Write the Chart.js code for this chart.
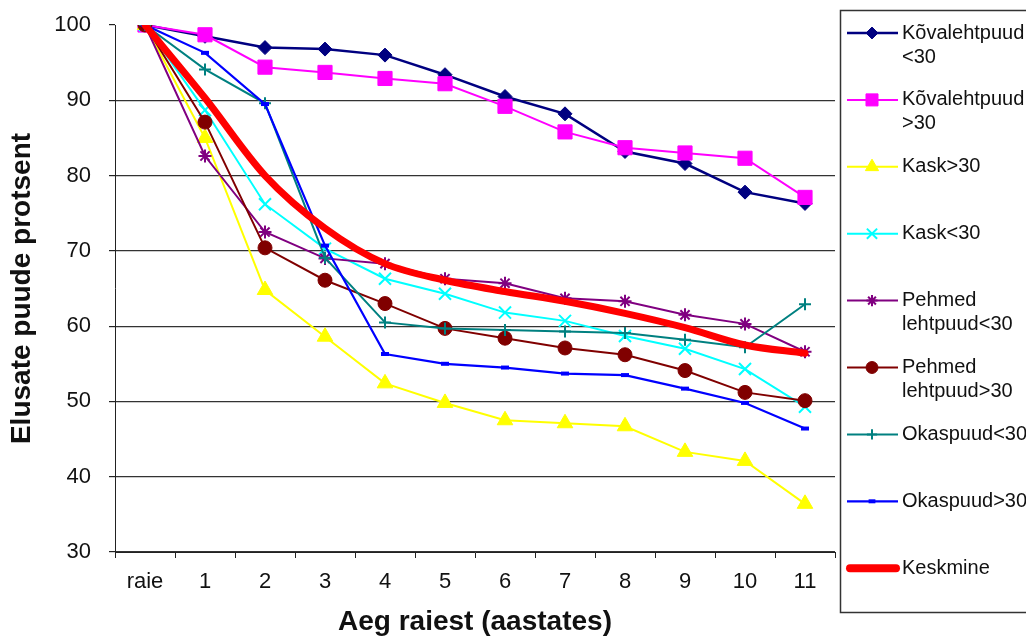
<!DOCTYPE html>
<html>
<head>
<meta charset="utf-8">
<script src="https://cdn.jsdelivr.net/npm/chart.js@4/dist/chart.umd.min.js"></script>
<style>
  html, body { margin: 0; padding: 0; background: #fff; }
  #wrap { width: 1026px; height: 640px; position: relative; }
</style>
</head>
<body>
<div id="wrap"><canvas id="chart"></canvas></div>
<script>
// categories (years since felling)
const labels = ['raie', '1', '2', '3', '4', '5', '6', '7', '8', '9', '10', '11'];

// share of surviving trees, %
const kovaAla30   = [100, 98.5, 97.0, 96.8, 96.0, 93.4, 90.5, 88.2, 83.2, 81.6, 77.8, 76.3];
const kovaYle30   = [100, 98.7, 94.4, 93.7, 92.9, 92.2, 89.2, 85.8, 83.7, 83.0, 82.3, 77.1];
const kaskYle30   = [100, 85.0, 64.8, 58.6, 52.4, 49.8, 47.5, 47.1, 46.7, 43.3, 42.1, 36.4];
const kaskAla30   = [100, 88.7, 76.2, 70.3, 66.3, 64.3, 61.8, 60.7, 58.7, 57.0, 54.3, 49.3];
const pehmedAla30 = [100, 82.6, 72.5, 69.0, 68.3, 66.3, 65.7, 63.7, 63.3, 61.5, 60.3, 56.6];
const pehmedYle30 = [100, 87.1, 70.4, 66.1, 63.0, 59.7, 58.4, 57.1, 56.2, 54.1, 51.2, 50.1];
const okasAla30   = [100, 94.1, 89.6, 69.1, 60.5, 59.7, 59.5, 59.3, 59.1, 58.2, 57.2, 62.9];
const okasYle30   = [100, 96.3, 89.5, 70.7, 56.3, 55.0, 54.5, 53.7, 53.5, 51.7, 49.8, 46.4];
const keskmine    = [100, 90.3, 80.0, 73.0, 68.3, 66.1, 64.6, 63.3, 61.7, 59.8, 57.5, 56.4];

// legend names (\n = line break in the legend box)
const seriesNames = [
  'Kõvalehtpuud\n<30', 'Kõvalehtpuud\n>30', 'Kask>30', 'Kask<30',
  'Pehmed\nlehtpuud<30', 'Pehmed\nlehtpuud>30', 'Okaspuud<30', 'Okaspuud>30', 'Keskmine'
];

const FONT = "'Liberation Sans', Arial, sans-serif";

function series(i, values, color, style, radius, lineW, pointBorder) {
  return {
    label: seriesNames[i],
    data: values,
    borderColor: color,
    backgroundColor: color,
    borderWidth: lineW,
    pointStyle: style,
    pointRadius: radius,
    pointHoverRadius: radius,
    pointBorderWidth: pointBorder,
    pointBackgroundColor: color,
    pointBorderColor: color,
    tension: 0,
    order: 8 - i,   // later series drawn on top, like Excel
  };
}

const datasets = [
  series(0, kovaAla30,   '#000080', 'rectRot',  7,   2.5, 1),
  series(1, kovaYle30,   '#FF00FF', 'rect',     10,  2,   1),
  series(2, kaskYle30,   '#FFFF00', 'triangle', 9,   2,   1),
  series(3, kaskAla30,   '#00FFFF', 'crossRot', 8.5, 2,   2),
  series(4, pehmedAla30, '#800080', 'star',     6.5, 2,   2),
  series(5, pehmedYle30, '#800000', 'circle',   7,   2,   1),
  series(6, okasAla30,   '#008080', 'cross',    6,   2,   2),
  series(7, okasYle30,   '#0000FF', 'line',     4,   2.2, 4),
  series(8, keskmine,    '#FF0000', false,      0,   7,   0),
];
datasets[8].cubicInterpolationMode = 'monotone';
datasets[8].borderCapStyle = 'round';
datasets[8].borderJoinStyle = 'round';

// legend box on the right, drawn by hand so the labels can wrap
const sideLegend = {
  id: 'sideLegend',
  afterDraw(chart) {
    const ctx = chart.ctx;
    const draw = Chart.helpers && Chart.helpers.drawPoint;
    ctx.save();
    ctx.strokeStyle = '#333';
    ctx.lineWidth = 1.5;
    ctx.strokeRect(840.5, 10.5, 220, 602);

    chart.data.datasets.forEach(function(ds, i) {
      const y = 33 + i * 66.9;
      ctx.strokeStyle = ds.borderColor;
      ctx.fillStyle = ds.borderColor;
      ctx.lineWidth = i == 8 ? 8 : ds.borderWidth;
      ctx.lineCap = i == 8 ? 'round' : 'butt';
      ctx.beginPath();
      ctx.moveTo(i == 8 ? 850 : 847, y);
      ctx.lineTo(i == 8 ? 896 : 898, y);
      ctx.stroke();
      if (ds.pointStyle && draw) {
        ctx.lineWidth = ds.pointBorderWidth;
        draw(ctx, {pointStyle: ds.pointStyle, radius: ds.pointRadius * 0.85,
                   rotation: 0, borderWidth: ds.pointBorderWidth}, 872, y);
      }
      ctx.fillStyle = '#111';
      ctx.font = '20px ' + FONT;
      ctx.textBaseline = 'middle';
      ctx.textAlign = 'left';
      ds.label.split('\n').forEach(function(line, k) {
        ctx.fillText(line, 902, y + k * 24);
      });
    });
    ctx.restore();
  }
};

const ctx = document.getElementById('chart').getContext('2d');
new Chart(ctx, {
  type: 'line',
  data: { labels: labels, datasets: datasets },
  options: {
    responsive: true,
    maintainAspectRatio: false,
    animation: false,
    events: [],
    layout: { padding: { left: 0, right: 191, top: 25, bottom: 0 } },
    plugins: {
      legend: { display: false },
      tooltip: { enabled: false },
    },
    scales: {
      x: {
        offset: true,
        afterFit: function(scale) { scale.height = 88; },
        border: { color: '#222', width: 1 },
        grid: {
          offset: true,
          drawOnChartArea: false,
          drawTicks: true,
          tickLength: 6,
          color: '#222',
        },
        ticks: {
          color: '#111',
          font: { family: FONT, size: 22 },
          padding: 11,
          maxRotation: 0,
          autoSkip: false,
        },
        title: {
          display: true,
          text: 'Aeg raiest (aastates)',
          color: '#111',
          font: { family: FONT, size: 28, weight: 'bold' },
          padding: { top: 0, bottom: 1 },
        },
      },
      y: {
        min: 30,
        max: 100,
        afterFit: function(scale) {
          scale.width = 115;
          // tick padding would otherwise push the plot area down
          scale.paddingTop = 0;
          scale.paddingBottom = 0;
        },
        border: { color: '#222', width: 1 },
        grid: {
          color: function(c) { return c.tick && c.tick.value == 100 ? 'rgba(0,0,0,0)' : '#333'; },
          tickColor: '#222',
          tickLength: 6,
          lineWidth: 1.2,
        },
        ticks: {
          stepSize: 10,
          color: '#111',
          font: { family: FONT, size: 22 },
          padding: 18,
        },
        title: {
          display: true,
          text: 'Elusate puude protsent',
          color: '#111',
          font: { family: FONT, size: 28, weight: 'bold' },
          padding: { top: 5, bottom: 0 },
        },
      },
    },
  },
  plugins: [sideLegend],
});
</script>
</body>
</html>
